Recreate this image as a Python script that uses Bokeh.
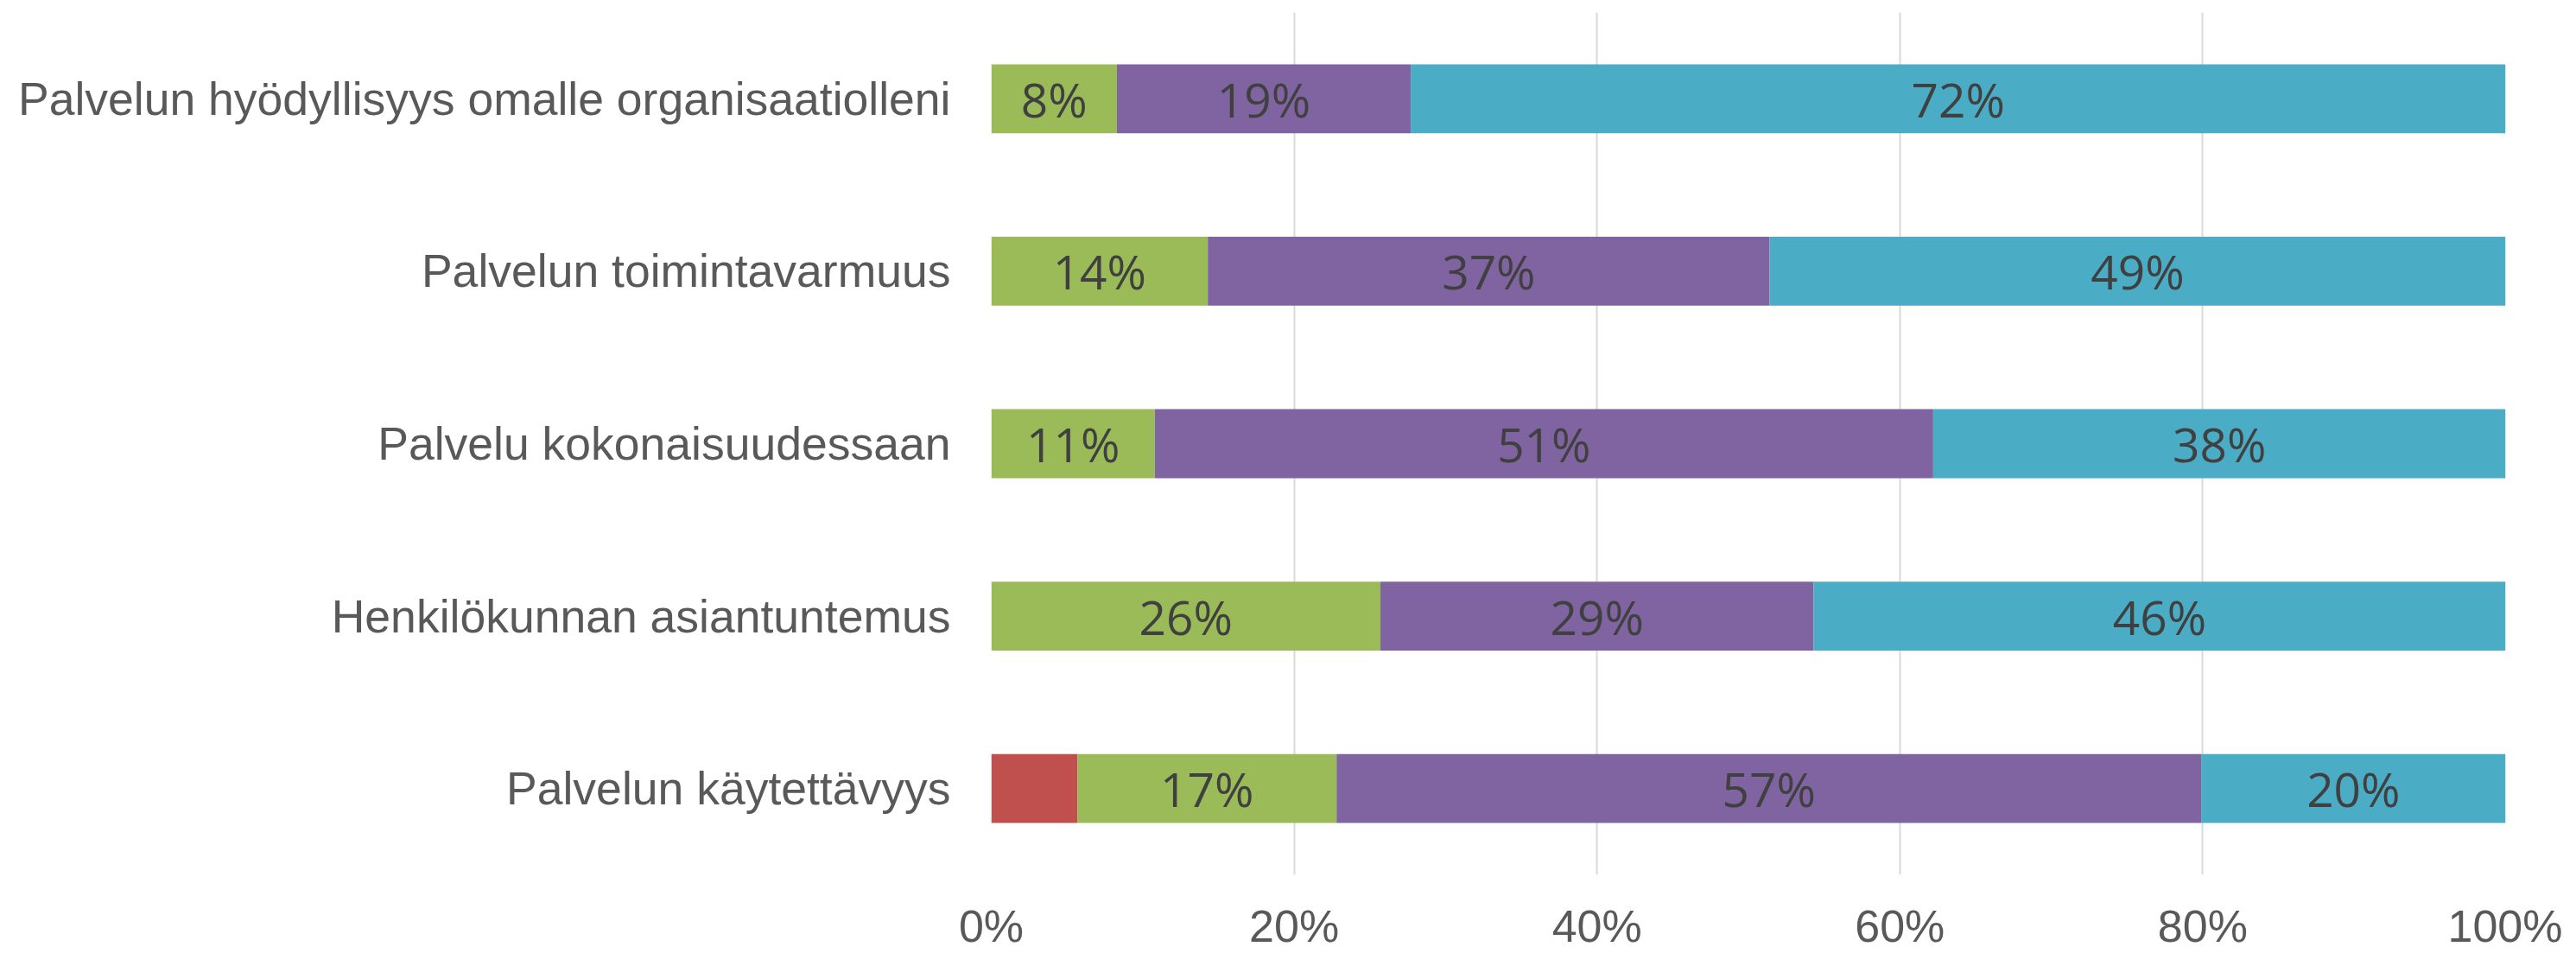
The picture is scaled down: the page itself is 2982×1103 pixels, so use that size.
from bokeh.plotting import figure
from bokeh.models import ColumnDataSource, FixedTicker, NumeralTickFormatter, Range1d
from bokeh.core.properties import value
from bokeh.embed import file_html
from bokeh.resources import INLINE

categories = [
    "Palvelun hyödyllisyys omalle organisaatiolleni",
    "Palvelun toimintavarmuus",
    "Palvelu kokonaisuudessaan",
    "Henkilökunnan asiantuntemus",
    "Palvelun käytettävyys",
]
red = [0.0, 0.0, 0.0, 0.0, 5.7]
green = [8.3, 14.3, 10.8, 25.7, 17.1]
purple = [19.4, 37.1, 51.4, 28.6, 57.1]
blue = [72.3, 48.6, 37.8, 45.7, 20.1]
series_names = ["red", "green", "purple", "blue"]
colors = ["#C0504D", "#9BBB59", "#8064A2", "#4BACC6"]
labelled = [False, True, True, True]
tick_values = [0, 20, 40, 60, 80, 100]

data = dict(cat=categories, red=[v / 100 for v in red], green=[v / 100 for v in green],
            purple=[v / 100 for v in purple], blue=[v / 100 for v in blue])
src = ColumnDataSource(data)

p = figure(width=2966, height=1103, y_range=list(reversed(categories)),
           x_range=Range1d(0, 1), output_backend="svg", toolbar_location=None,
           min_border_left=1147, min_border_right=66, min_border_top=14, min_border_bottom=80)
p.outline_line_color = None
p.background_fill_color = "white"
p.border_fill_color = "white"

p.hbar_stack(series_names, y="cat", height=0.4, color=colors, line_color=None, source=src)

# data labels
lx, ly, lt = [], [], []
for i, c in enumerate(categories):
    vals = [data[s][i] for s in series_names]
    cum = 0.0
    for v, show in zip(vals, labelled):
        if show and v > 0:
            lx.append(cum + v / 2)
            ly.append(c)
            lt.append(f"{round(v * 100):d}%")
        cum += v
p.text(x=lx, y=ly, text=lt, text_align="center", text_baseline="middle",
       text_font=value("Open Sans"), text_font_size="55px", text_color="#404040")

p.xaxis.ticker = FixedTicker(ticks=[t / 100 for t in tick_values])
p.xaxis.formatter = NumeralTickFormatter(format="0%")
p.xaxis.axis_line_color = None
p.xaxis.major_tick_line_color = None
p.xaxis.minor_tick_line_color = None
p.xaxis.major_label_text_font = "Liberation Sans"
p.xaxis.major_label_text_font_size = "52px"
p.xaxis.major_label_text_color = "#595959"
p.xaxis.major_label_standoff = 24

p.yaxis.axis_line_color = None
p.yaxis.major_tick_line_color = None
p.yaxis.minor_tick_line_color = None
p.yaxis.major_label_text_font = "Liberation Sans"
p.yaxis.major_label_text_font_size = "53.5px"
p.yaxis.major_label_text_color = "#595959"
p.yaxis.major_label_standoff = 41

p.xgrid.ticker = FixedTicker(ticks=[t / 100 for t in tick_values])
p.xgrid.grid_line_color = "#D9D9D9"
p.xgrid.grid_line_width = 2
p.ygrid.grid_line_color = None

open("out.html", "w").write(file_html(p, INLINE))
